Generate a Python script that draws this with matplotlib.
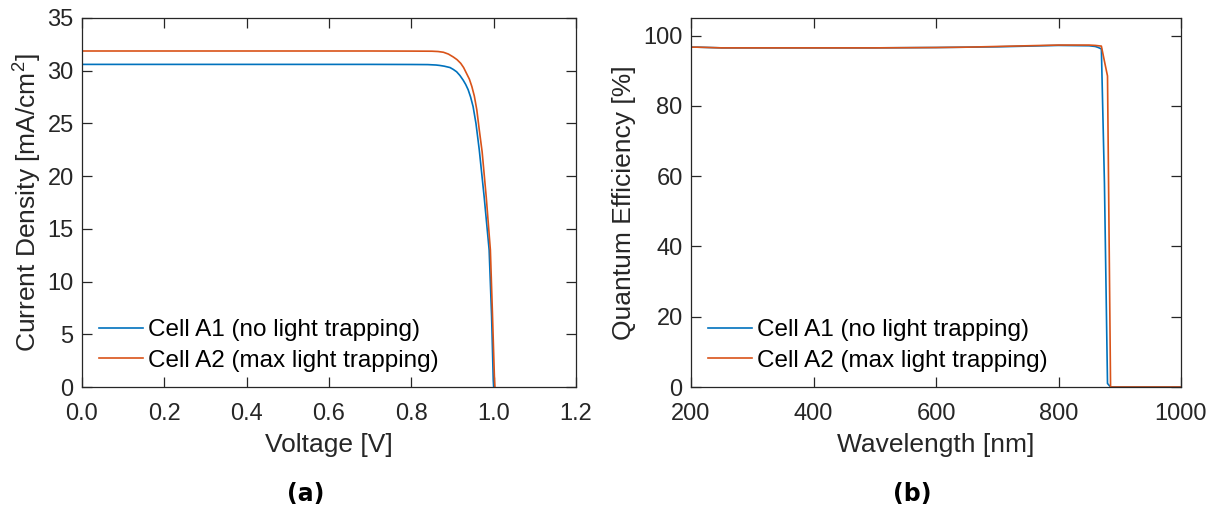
import matplotlib
matplotlib.use("Agg")
import matplotlib.pyplot as plt

plt.rcParams['font.family'] = ['Liberation Sans', 'DejaVu Sans']
plt.rcParams['mathtext.fontset'] = 'custom'
plt.rcParams['mathtext.rm'] = 'Liberation Sans'
plt.rcParams['mathtext.it'] = 'Liberation Sans:italic'

# ---- Panel (a): J-V curves ----
v_a1 = [0.0, 0.2, 0.4, 0.6, 0.7, 0.8, 0.84, 0.86, 0.869, 0.88, 0.894, 0.902, 0.910, 0.918,
        0.926, 0.932, 0.938, 0.944, 0.950, 0.957, 0.965, 0.977, 0.989, 0.995, 0.999, 1.000]
j_a1 = [30.6, 30.6, 30.6, 30.6, 30.6, 30.59, 30.58, 30.54, 30.5, 30.43, 30.3, 30.12, 29.9, 29.55,
        29.1, 28.7, 28.2, 27.5, 26.6, 25.0, 22.5, 18.0, 13.0, 6.7, 0.66, 0.0]
v_a2 = [0.0, 0.2, 0.4, 0.6, 0.7, 0.8, 0.85, 0.865, 0.878, 0.89, 0.902, 0.911, 0.920, 0.927,
        0.934, 0.941, 0.947, 0.953, 0.959, 0.965, 0.972, 0.982, 0.992, 0.997, 1.002, 1.003]
j_a2 = [31.87, 31.87, 31.87, 31.87, 31.87, 31.86, 31.85, 31.82, 31.75, 31.58, 31.3, 31.05, 30.7, 30.3,
        29.75, 29.2, 28.5, 27.6, 26.3, 24.4, 22.3, 18.0, 13.0, 7.0, 0.66, 0.0]

# ---- Panel (b): quantum efficiency ----
wl = [200, 210, 230, 250, 300, 400, 500, 600, 650, 700, 750, 800, 850, 860, 865,
      870, 875, 880, 885, 900, 1000]
qe_a1 = [96.7, 96.7, 96.6, 96.5, 96.5, 96.5, 96.5, 96.6, 96.7, 96.8, 97.0, 97.2, 97.1, 96.9, 96.6,
         96.2, 58.0, 1.0, 0.0, 0.0, 0.0]
qe_a2 = [96.7, 96.7, 96.6, 96.5, 96.5, 96.5, 96.5, 96.6, 96.7, 96.9, 97.1, 97.3, 97.3, 97.2, 97.1,
         97.0, 92.7, 88.5, 0.0, 0.0, 0.0]

labels = ["Cell A1 (no light trapping)", "Cell A2 (max light trapping)"]
c1 = (0.0, 0.447, 0.741)
c2 = (0.85, 0.325, 0.098)
dark = "#262626"

W, H = 1217, 507
fig = plt.figure(figsize=(W / 100, H / 100), dpi=100)

def px_axes(x0, x1, y0, y1):
    return fig.add_axes([x0 / W, 1 - y1 / H, (x1 - x0) / W, (y1 - y0) / H])

ax1 = px_axes(82, 576, 18, 387)
ax2 = px_axes(691, 1181, 18, 387)

for ax in (ax1, ax2):
    for s in ax.spines.values():
        s.set_color(dark)
        s.set_linewidth(0.9)
    ax.tick_params(direction='in', length=7, width=0.9, colors=dark, labelsize=17,
                   top=True, right=True)
    ax.tick_params(axis='x', pad=11.5)
    ax.tick_params(axis='y', pad=6)

ax1.plot(v_a1, j_a1, color=c1, lw=1.2, label=labels[0])
ax1.plot(v_a2, j_a2, color=c2, lw=1.2, label=labels[1])
ax1.set_xlim(0, 1.2)
ax1.set_ylim(0, 35)
ax1.set_xticks([0.0, 0.2, 0.4, 0.6, 0.8, 1.0, 1.2])
ax1.set_xticklabels(["0.0", "0.2", "0.4", "0.6", "0.8", "1.0", "1.2"])
ax1.set_yticks([0, 5, 10, 15, 20, 25, 30, 35])
ax1.set_xlabel("Voltage [V]", fontsize=19, color=dark)
ax1.set_ylabel("Current Density [mA/cm$^2$]", fontsize=19, color=dark)

ax2.plot(wl, qe_a1, color=c1, lw=1.2, label=labels[0])
ax2.plot(wl, qe_a2, color=c2, lw=1.2, label=labels[1])
ax2.set_xlim(200, 1000)
ax2.set_ylim(0, 105)
ax2.set_xticks([200, 400, 600, 800, 1000])
ax2.set_yticks([0, 20, 40, 60, 80, 100])
ax2.set_xlabel("Wavelength [nm]", fontsize=19, color=dark)
ax2.set_ylabel("Quantum Efficiency [%]", fontsize=19, color=dark)

for ax, ylx in ((ax1, -0.110), (ax2, -0.136)):
    ax.yaxis.label.set_verticalalignment('center')
    ax.yaxis.set_label_coords(ylx, 0.5)
    ax.xaxis.label.set_verticalalignment('center')
    ax.xaxis.set_label_coords(0.5, -0.157)

for ax in (ax1, ax2):
    ax.legend(loc='lower left', bbox_to_anchor=(0.0, -0.005), frameon=False, fontsize=17.5,
              handlelength=1.8, handletextpad=0.2, labelspacing=0.35, borderaxespad=0.3)

fig.text(306 / W, 1 - 494 / H, "(a)", family='DejaVu Sans', weight='bold', fontsize=17,
         ha='center', va='center')
fig.text(912 / W, 1 - 494 / H, "(b)", family='DejaVu Sans', weight='bold', fontsize=17,
         ha='center', va='center')

fig.savefig("out.png", dpi=100)
